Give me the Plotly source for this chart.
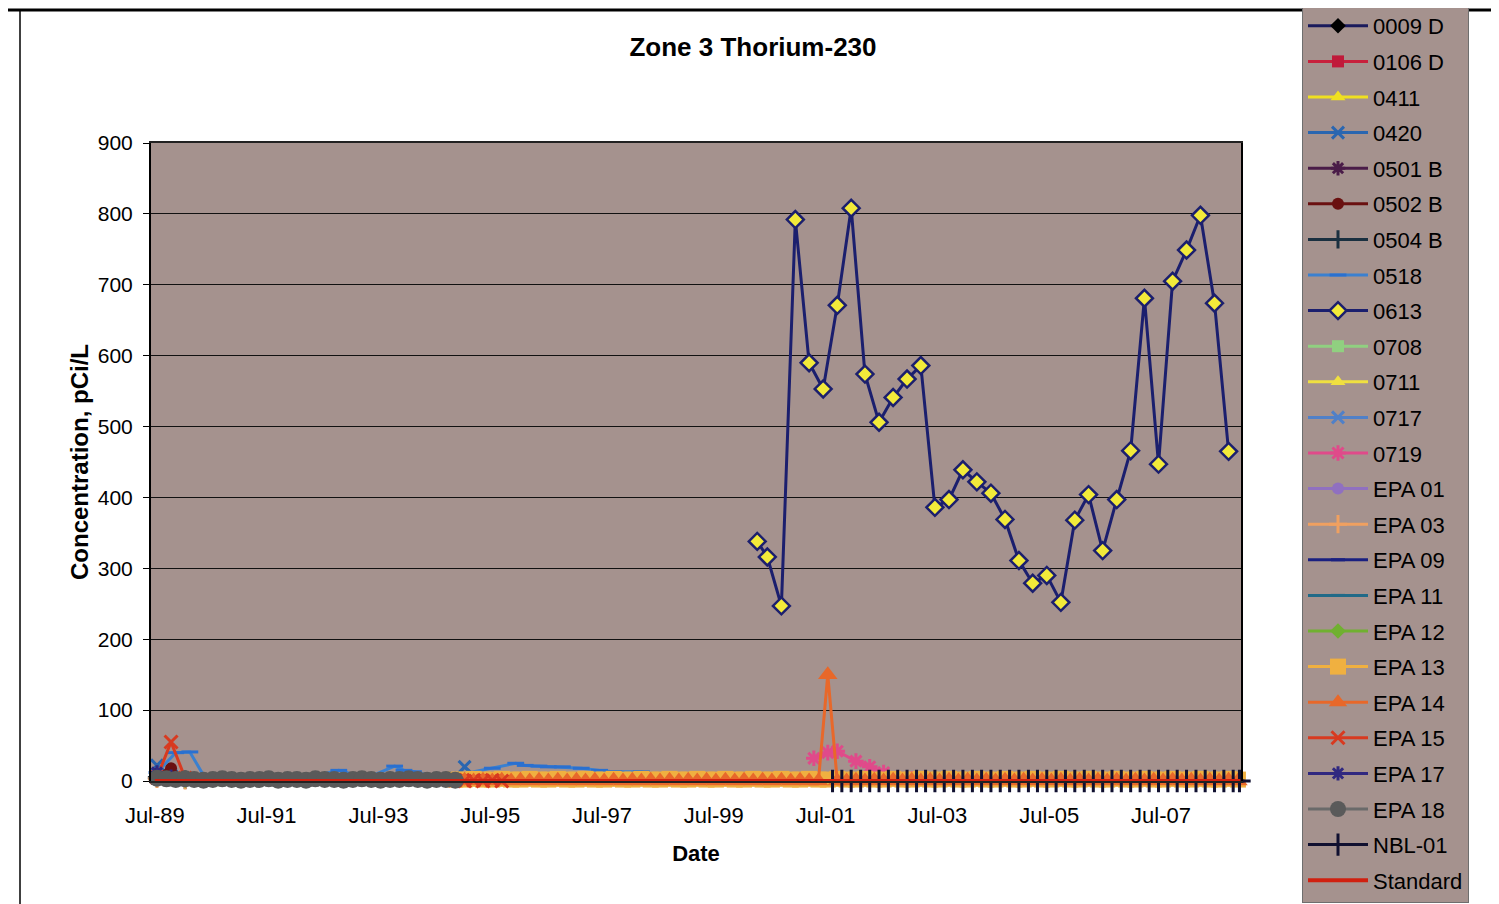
import plotly.graph_objects as go

FONT = "Liberation Sans, Arial, sans-serif"

# ---- data (pCi/L) ----
d_0009d = ["1989-07-15", "1989-10-15", "1990-01-15"]
v_0009d = [5, 3, 2]
d_0106d = ["1989-07-15", "1990-01-15"]
v_0106d = [4, 2]
d_0411 = ["1989-07-15", "1990-01-15", "1990-07-15"]
v_0411 = [3, 2, 1]
d_0420 = ["1989-07-15", "1989-10-15", "1990-01-15", "1994-11-15", "1995-01-15", "1995-04-15"]
v_0420 = [22, 8, 3, 4, 20, 3]
d_0501b = ["1989-07-15", "1989-10-15"]
v_0501b = [8, 3]
d_0502b = ["1989-07-15", "1989-10-15", "1990-01-15"]
v_0502b = [10, 18, 3]
d_0504b = ["1989-07-15", "1990-01-15"]
v_0504b = [5, 2]
d_0518 = ["1989-07-15", "1989-11-15", "1990-02-15", "1990-05-15", "1990-10-15", "1991-06-15",
          "1992-02-15", "1992-10-15", "1993-04-15", "1993-10-15", "1993-12-15", "1994-02-15",
          "1994-08-15", "1995-07-15", "1995-12-15", "1996-02-15", "1996-05-15", "1996-07-15",
          "1996-10-15", "1997-02-15", "1997-06-15", "1997-09-15", "1998-03-15", "1998-09-15"]
v_0518 = [12, 40, 41, 8, 3, 2, 3, 15, 4, 21, 15, 13, 4, 18, 25, 22, 21, 20, 20, 18, 15, 13, 13, 3]
d_0613 = ["2000-04-10", "2000-06-15", "2000-09-15", "2000-12-15",
          "2001-03-15", "2001-06-15", "2001-09-15", "2001-12-15",
          "2002-03-15", "2002-06-15", "2002-09-15", "2002-12-15",
          "2003-03-15", "2003-06-15", "2003-09-15", "2003-12-15",
          "2004-03-15", "2004-06-15", "2004-09-15", "2004-12-15",
          "2005-03-15", "2005-06-15", "2005-09-15", "2005-12-15",
          "2006-03-15", "2006-06-15", "2006-09-15", "2006-12-15",
          "2007-03-15", "2007-06-15", "2007-09-15", "2007-12-15",
          "2008-03-15", "2008-06-15", "2008-09-15"]
v_0613 = [338, 316, 247, 792, 590, 553, 671, 808, 574, 506, 541, 567,
          586, 386, 397, 439, 422, 406, 369, 311, 279, 290, 252, 368,
          404, 325, 397, 466, 681, 447, 705, 749, 798, 674, 465]
d_0708 = ["1990-01-15", "1990-07-15"]
v_0708 = [2, 1]
d_0711 = ["1989-07-15", "1990-01-15"]
v_0711 = [3, 1]
d_0717 = ["1989-07-15", "1990-01-15"]
v_0717 = [6, 2]
d_0719 = ["2001-04-15", "2001-07-15", "2001-09-15", "2002-01-15", "2002-04-15",
          "2002-07-15", "2002-10-15", "2003-01-15"]
v_0719 = [32, 40, 42, 28, 20, 12, 4, 3]
d_epa01 = ["1989-07-15", "1990-01-15"]
v_epa01 = [4, 2]
d_epa03 = ["1989-07-15", "1990-01-15"]
v_epa03 = [3, 1]
d_epa09 = ["2000-03-15", "2000-05-15", "2000-07-15", "2000-09-15", "2000-11-15"]
v_epa09 = [10, 8, 9, 5, 10]
d_epa11 = ["1989-07-15", "1990-01-15"]
v_epa11 = [5, 2]
d_epa12 = ["1989-07-15", "1990-01-15"]
v_epa12 = [4, 1]

# bimonthly sampling, Nov-94 .. Nov-08
band_dates = ["1994-11-15",
              "1995-01-15", "1995-03-15", "1995-05-15", "1995-07-15", "1995-09-15", "1995-11-15",
              "1996-01-15", "1996-03-15", "1996-05-15", "1996-07-15", "1996-09-15", "1996-11-15",
              "1997-01-15", "1997-03-15", "1997-05-15", "1997-07-15", "1997-09-15", "1997-11-15",
              "1998-01-15", "1998-03-15", "1998-05-15", "1998-07-15", "1998-09-15", "1998-11-15",
              "1999-01-15", "1999-03-15", "1999-05-15", "1999-07-15", "1999-09-15", "1999-11-15",
              "2000-01-15", "2000-03-15", "2000-05-15", "2000-07-15", "2000-09-15", "2000-11-15",
              "2001-01-15", "2001-03-15", "2001-05-15", "2001-07-15", "2001-09-15", "2001-11-15",
              "2002-01-15", "2002-03-15", "2002-05-15", "2002-07-15", "2002-09-15", "2002-11-15",
              "2003-01-15", "2003-03-15", "2003-05-15", "2003-07-15", "2003-09-15", "2003-11-15",
              "2004-01-15", "2004-03-15", "2004-05-15", "2004-07-15", "2004-09-15", "2004-11-15",
              "2005-01-15", "2005-03-15", "2005-05-15", "2005-07-15", "2005-09-15", "2005-11-15",
              "2006-01-15", "2006-03-15", "2006-05-15", "2006-07-15", "2006-09-15", "2006-11-15",
              "2007-01-15", "2007-03-15", "2007-05-15", "2007-07-15", "2007-09-15", "2007-11-15",
              "2008-01-15", "2008-03-15", "2008-05-15", "2008-07-15", "2008-09-15", "2008-11-15"]
v_epa13 = [2,
           2, 3, 2, 2, 3, 2,
           2, 3, 2, 2, 3, 2,
           2, 3, 2, 2, 3, 2,
           2, 3, 2, 2, 3, 2,
           2, 3, 2, 2, 3, 2,
           2, 3, 2, 2, 3, 2,
           2, 3, 2, 2, 3, 2,
           2, 3, 2, 2, 3, 2,
           2, 3, 2, 2, 3, 2,
           2, 3, 2, 2, 3, 2,
           2, 3, 2, 2, 3, 2,
           2, 3, 2, 2, 3, 2,
           2, 3, 2, 2, 3, 2,
           2, 3, 2, 2, 3, 2]
v_epa14 = [0,
           1, 0, 1, 0, 1, 0,
           1, 0, 1, 0, 1, 0,
           1, 0, 1, 0, 1, 0,
           1, 0, 1, 0, 1, 0,
           1, 0, 1, 0, 1, 0,
           1, 0, 1, 0, 1, 0,
           1, 0, 0, 150, 0, 0,
           1, 0, 1, 0, 1, 0,
           1, 0, 1, 0, 1, 0,
           1, 0, 1, 0, 1, 0,
           1, 0, 1, 0, 1, 0,
           1, 0, 1, 0, 1, 0,
           1, 0, 1, 0, 1, 0,
           1, 0, 1, 0, 1, 0]
d_epa15 = ["1989-07-15", "1989-10-15", "1990-01-15", "1994-11-15", "1995-01-15",
           "1995-03-15", "1995-05-15", "1995-07-15", "1995-09-15"]
v_epa15 = [5, 55, 4, 1, 0, 1, 0, 1, 0]
d_epa17 = ["1989-07-15", "1989-10-15", "1990-01-15"]
v_epa17 = [12, 6, 2]
d_epa18 = ["1989-07-15", "1989-09-15", "1989-11-15",
           "1990-01-15", "1990-03-15", "1990-05-15", "1990-07-15", "1990-09-15", "1990-11-15",
           "1991-01-15", "1991-03-15", "1991-05-15", "1991-07-15", "1991-09-15", "1991-11-15",
           "1992-01-15", "1992-03-15", "1992-05-15", "1992-07-15", "1992-09-15", "1992-11-15",
           "1993-01-15", "1993-03-15", "1993-05-15", "1993-07-15", "1993-09-15", "1993-11-15",
           "1994-01-15", "1994-03-15", "1994-05-15", "1994-07-15", "1994-09-15", "1994-11-15"]
v_epa18 = [4, 3, 2, 3, 2, 1, 2, 3, 2, 1, 2, 2, 3, 1, 2, 2, 1, 3, 2, 2, 1, 2, 3, 2, 1, 2, 2, 3, 2,
           1, 2, 2, 1]
d_nbl01 = ["2001-08-15", "2001-10-15", "2001-12-15",
           "2002-02-15", "2002-04-15", "2002-06-15", "2002-08-15", "2002-10-15", "2002-12-15",
           "2003-02-15", "2003-04-15", "2003-06-15", "2003-08-15", "2003-10-15", "2003-12-15",
           "2004-02-15", "2004-04-15", "2004-06-15", "2004-08-15", "2004-10-15", "2004-12-15",
           "2005-02-15", "2005-04-15", "2005-06-15", "2005-08-15", "2005-10-15", "2005-12-15",
           "2006-02-15", "2006-04-15", "2006-06-15", "2006-08-15", "2006-10-15", "2006-12-15",
           "2007-02-15", "2007-04-15", "2007-06-15", "2007-08-15", "2007-10-15", "2007-12-15",
           "2008-02-15", "2008-04-15", "2008-06-15", "2008-08-15", "2008-10-15", "2008-11-25"]
v_nbl01 = [0] * 45
d_std = ["1989-07-01", "2008-12-01"]
v_std = [0, 0]

# name, x, y, line colour, marker symbol, marker colour, marker size
series = [
    ("0009 D", d_0009d, v_0009d, "#1a1a5c", "diamond", "#000000", 12),
    ("0106 D", d_0106d, v_0106d, "#c8203c", "square", "#c01a3a", 12),
    ("0411", d_0411, v_0411, "#f0e020", "triangle-up", "#f0e020", 13),
    ("0420", d_0420, v_0420, "#2a66b0", "x-thin", "#2a66b0", 12),
    ("0501 B", d_0501b, v_0501b, "#4a1c48", "asterisk", "#4a1c48", 12),
    ("0502 B", d_0502b, v_0502b, "#6a1010", "circle", "#6a1010", 12),
    ("0504 B", d_0504b, v_0504b, "#1a3040", "cross-thin", "#1a3040", 13),
    ("0518", d_0518, v_0518, "#3a80d0", "line-ew", "#2a70d0", 12),
    ("0613", d_0613, v_0613, "#1b1f6e", "diamond", "#f2ea3a", 13),
    ("0708", d_0708, v_0708, "#90d080", "square", "#90d080", 12),
    ("0711", d_0711, v_0711, "#f0e040", "triangle-up", "#f0e040", 13),
    ("0717", d_0717, v_0717, "#5080c8", "x-thin", "#5080c8", 12),
    ("0719", d_0719, v_0719, "#e04a8a", "asterisk", "#e04a8a", 13),
    ("EPA 01", d_epa01, v_epa01, "#9070c0", "circle", "#9070c0", 12),
    ("EPA 03", d_epa03, v_epa03, "#f0a060", "cross-thin", "#f0a060", 13),
    ("EPA 09", d_epa09, v_epa09, "#1a2080", "line-ew", "#1a2080", 10),
    ("EPA 11", d_epa11, v_epa11, "#206a88", "line-ew", "#206a88", 10),
    ("EPA 12", d_epa12, v_epa12, "#70b030", "diamond", "#70b030", 12),
    ("EPA 13", band_dates, v_epa13, "#f0b040", "square", "#f0b040", 16),
    ("EPA 14", band_dates, v_epa14, "#e8682a", "triangle-up", "#e8682a", 17),
    ("EPA 15", d_epa15, v_epa15, "#d83a20", "x-thin", "#d83a20", 13),
    ("EPA 17", d_epa17, v_epa17, "#302880", "asterisk", "#302880", 12),
    ("EPA 18", d_epa18, v_epa18, "#6a6a6a", "circle", "#5a5a5a", 17),
    ("NBL-01", d_nbl01, v_nbl01, "#101030", "cross-thin", "#101030", 16),
]

fig = go.Figure()
for name, xs, ys, lc, sym, mc, ms in series:
    open_sym = sym in ("x-thin", "asterisk", "cross-thin", "line-ew")
    if name == "0613":
        mline = dict(color="#1b1f6e", width=2.5)
    elif open_sym:
        mline = dict(color=mc, width=3)
    else:
        mline = dict(color=mc, width=0)
    fig.add_trace(go.Scatter(
        x=xs, y=ys, name=name, legendgroup=name, mode="lines+markers", cliponaxis=False,
        line=dict(color=lc, width=3),
        marker=dict(symbol=sym, size=ms, color=mc, line=mline),
    ))
fig.add_trace(go.Scatter(x=d_std, y=v_std, name="Standard", legendgroup="Standard",
                         mode="lines", cliponaxis=False,
                         line=dict(color="#d02010", width=4)))

# page pixel -> paper helpers (plot area sits at 151..1241 x 143..781 on the page)
def px(x):
    return (x - 151) / 1090


def py(y):
    return (781 - y) / 638


fig.update_layout(
    width=1499, height=904,
    margin=dict(l=143, r=266, t=135, b=131, autoexpand=False),
    paper_bgcolor="white", plot_bgcolor="#a5928e",
    title=dict(text="<b>Zone 3 Thorium-230</b>", x=745 / 1499, xanchor="center", xref="container",
               y=1 - 39 / 904, yanchor="middle", yref="container",
               font=dict(family=FONT, size=26, color="black")),
    showlegend=True,
    legend=dict(x=px(1302), y=py(4), xanchor="left", yanchor="top",
                bgcolor="#a5928e", bordercolor="#6e6e6e", borderwidth=1,
                font=dict(family=FONT, size=22, color="black"),
                itemwidth=60, tracegroupgap=4, maxheight=1400),
    shapes=[
        dict(type="line", xref="paper", yref="paper", x0=px(8), x1=px(1492), y0=py(10), y1=py(10),
             line=dict(color="black", width=3)),
        dict(type="line", xref="paper", yref="paper", x0=px(20), x1=px(20), y0=py(10), y1=py(910),
             line=dict(color="black", width=1.5)),
        dict(type="line", xref="paper", yref="paper", x0=px(1492), x1=px(1492), y0=py(10), y1=py(910),
             line=dict(color="black", width=2)),
    ],
)

fig.update_xaxes(
    type="date", range=["1989-06-06", "2008-12-05"],
    tick0="1989-07-01", dtick="M24", tickformat="%b-%y",
    showgrid=False, zeroline=False,
    showline=True, linecolor="#222222", linewidth=2, mirror=True,
    ticks="", ticklabelstandoff=14,
    tickfont=dict(family=FONT, size=22, color="black"),
    title=dict(text="<b>Date</b>", standoff=18, font=dict(family=FONT, size=22, color="black")),
)
fig.update_yaxes(
    range=[0, 900], dtick=100,
    showgrid=True, gridcolor="#111111", gridwidth=1, zeroline=False,
    showline=True, linecolor="black", linewidth=2, mirror=True,
    ticks="outside", ticklen=6, tickcolor="black", ticklabelstandoff=6,
    tickfont=dict(family=FONT, size=21, color="black"),
    title=dict(text="<b>Concentration, pCi/L</b>", standoff=2,
               font=dict(family=FONT, size=24, color="black")),
)

fig.write_html("out.html")
